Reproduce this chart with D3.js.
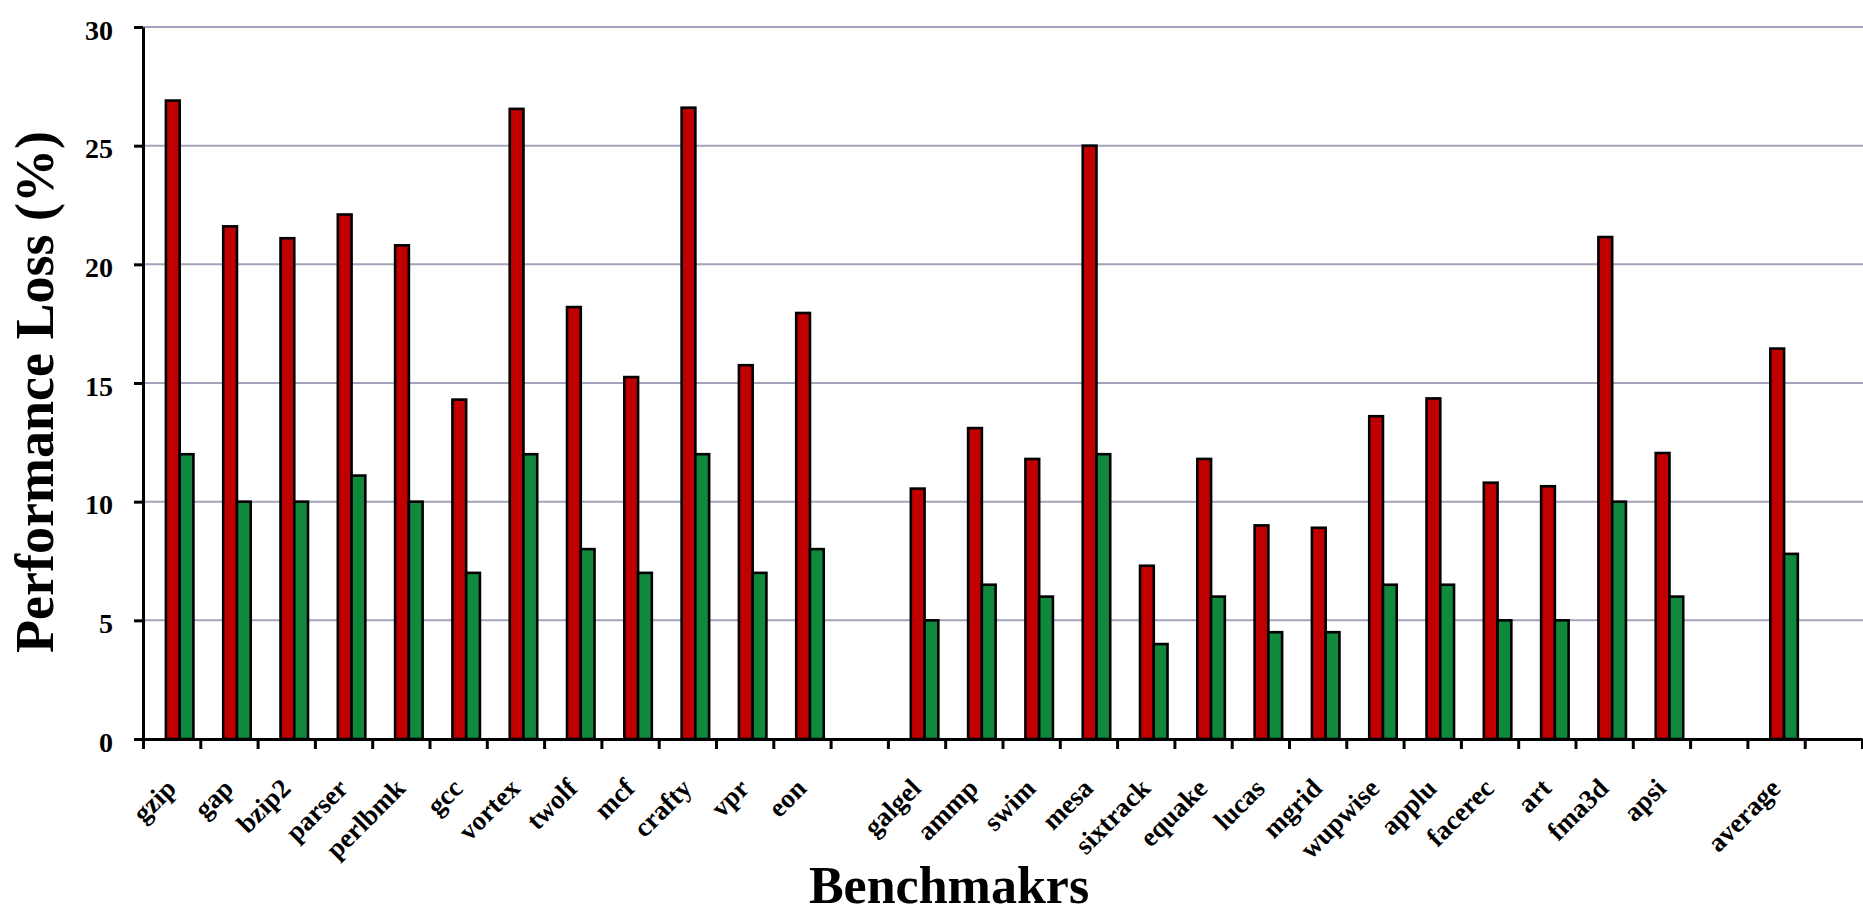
<!DOCTYPE html>
<html>
<head>
<meta charset="utf-8">
<script src="https://cdn.jsdelivr.net/npm/d3@7/dist/d3.min.js"></script>
<style>
  html, body { margin: 0; padding: 0; background: #ffffff; }
  svg { display: block; }
  text { font-family: "Liberation Serif", "Times New Roman", serif; font-weight: bold; fill: #000; }
</style>
</head>
<body>
<svg id="chart" width="1863" height="913"></svg>
<script>
// Benchmarks along the x axis; empty strings are spacer slots between groups.
const benchmarks = [
  "gzip", "gap", "bzip2", "parser", "perlbmk", "gcc", "vortex", "twolf", "mcf", "crafty", "vpr", "eon",
  "",
  "galgel", "ammp", "swim", "mesa", "sixtrack", "equake", "lucas", "mgrid", "wupwise", "applu", "facerec", "art", "fma3d", "apsi",
  "",
  "average",
  ""
];

// Performance loss (%) per benchmark, first (red) series.
const lossHigh = [
  26.9, 21.6, 21.1, 22.1, 20.8, 14.3, 26.55, 18.2, 15.25, 26.6, 15.75, 17.95,
  null,
  10.55, 13.1, 11.8, 25.0, 7.3, 11.8, 9.0, 8.9, 13.6, 14.35, 10.8, 10.65, 21.15, 12.05,
  null,
  16.45,
  null
];

// Performance loss (%) per benchmark, second (green) series.
const lossLow = [
  12, 10, 10, 11.1, 10, 7, 12, 8, 7, 12, 7, 8,
  null,
  5, 6.5, 6, 12, 4, 6, 4.5, 4.5, 6.5, 6.5, 5, 5, 10, 6,
  null,
  7.8,
  null
];

const yTicks = [0, 5, 10, 15, 20, 25, 30];
const seriesNames = ["lossHigh", "lossLow"];
const seriesColors = ["#c00000", "#10893d"];

const svg = d3.select("#chart");

const plot = { left: 143, right: 1862, top: 27, bottom: 739 };

const x = d3.scaleBand()
  .domain(d3.range(benchmarks.length))
  .range([plot.left, plot.right])
  .padding(0);

// Category boundaries, used for the tick marks between benchmarks.
const xEdge = d3.scaleLinear()
  .domain([0, benchmarks.length])
  .range([plot.left, plot.right]);

const inner = d3.scaleBand()
  .domain(seriesNames)
  .range([x.bandwidth() * 0.40, x.bandwidth() * 0.88])
  .padding(0);

const y = d3.scaleLinear()
  .domain([0, 30])
  .range([plot.bottom, plot.top]);

// Horizontal gridlines
svg.append("g")
  .selectAll("line")
  .data(yTicks.filter(t => t > 0))
  .join("line")
  .attr("x1", plot.left)
  .attr("x2", 1863)
  .attr("y1", d => y(d))
  .attr("y2", d => y(d))
  .attr("stroke", "#a3a3bb")
  .attr("stroke-width", 2);

// Bars
const rows = benchmarks.map((name, i) => ({ i, values: [lossHigh[i], lossLow[i]] }));

const groups = svg.append("g")
  .selectAll("g")
  .data(rows.filter(r => r.values[0] != null))
  .join("g")
  .attr("transform", d => `translate(${x(d.i)},0)`);

groups.selectAll("rect")
  .data(d => d.values.map((v, k) => ({ key: seriesNames[k], value: v, color: seriesColors[k] })))
  .join("rect")
  .attr("x", d => inner(d.key))
  .attr("width", inner.bandwidth())
  .attr("y", d => y(d.value))
  .attr("height", d => y(0) - y(d.value))
  .attr("fill", d => d.color)
  .attr("stroke", "#000")
  .attr("stroke-width", 2.6);

// Y axis
const yAxis = svg.append("g")
  .attr("transform", `translate(${plot.left},0)`)
  .call(d3.axisLeft(y).tickValues(yTicks).tickSize(9).tickSizeOuter(0).tickPadding(21));
yAxis.select(".domain").attr("stroke", "#000").attr("stroke-width", 3);
yAxis.selectAll(".tick line").attr("stroke", "#000").attr("stroke-width", 3);
yAxis.selectAll(".tick text")
  .attr("font-family", "Liberation Serif, Times New Roman, serif")
  .attr("font-weight", "bold")
  .attr("font-size", 28)
  .attr("dy", "0.43em")
  .attr("fill", "#000");

// X axis with ticks on category boundaries
const xAxis = svg.append("g")
  .attr("transform", `translate(0,${plot.bottom})`)
  .call(d3.axisBottom(xEdge).tickValues(d3.range(benchmarks.length + 1)).tickSize(10).tickSizeOuter(0).tickFormat(""));
xAxis.select(".domain").attr("stroke", "#000").attr("stroke-width", 3);
xAxis.selectAll(".tick line").attr("stroke", "#000").attr("stroke-width", 3);

// Rotated benchmark labels
svg.append("g")
  .selectAll("text")
  .data(benchmarks.map((name, i) => ({ name, i })).filter(d => d.name !== ""))
  .join("text")
  .attr("transform", d => `translate(${x(d.i) + x.bandwidth() / 2 + 6},790) rotate(-45)`)
  .attr("text-anchor", "end")
  .attr("font-size", 27)
  .text(d => d.name);

// Axis titles
svg.append("text")
  .attr("transform", "translate(53,392) rotate(-90)")
  .attr("text-anchor", "middle")
  .attr("font-size", 54)
  .text("Performance Loss (%)");

svg.append("text")
  .attr("x", 949)
  .attr("y", 903)
  .attr("text-anchor", "middle")
  .attr("font-size", 52)
  .text("Benchmakrs");
</script>
</body>
</html>
